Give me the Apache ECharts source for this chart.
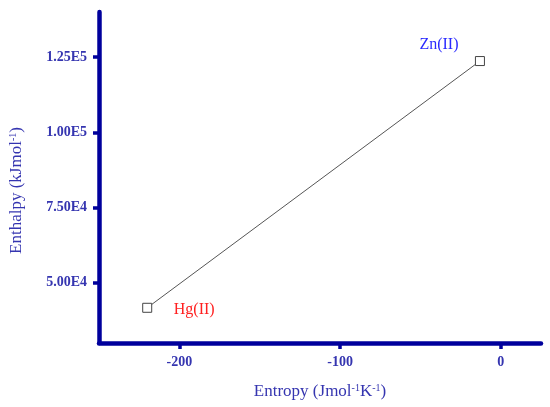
<!DOCTYPE html>
<html><head><meta charset="utf-8">
<script src="https://cdn.jsdelivr.net/npm/echarts@6/dist/echarts.min.js"></script>
<style>html,body{margin:0;padding:0;background:#fff}#c{width:550px;height:407px}</style>
</head><body><div id="c"></div>
<script>
const names = ['Hg(II)', 'Zn(II)'];
const entropy = [-220, -13];
const enthalpy = [41700, 123700];
const xTicks = [-200, -100, 0];
const yTicks = [50000, 75000, 100000, 125000];
const yTickLabels = ['5.00E4', '7.50E4', '1.00E5', '1.25E5'];
const labelColors = ['#ff2020', '#2a2aff'];
const labelOffsets = [[47, 2], [-41, -16]];

const axisBlue = '#00009c';
const textBlue = '#3535b0';
const font = '"Liberation Serif", "Times New Roman", serif';

const chart = echarts.init(document.getElementById('c'));
chart.setOption({
  animation: false,
  grid: {left: 97, right: 9, top: 12, bottom: 64},
  xAxis: {
    type: 'value', min: -250, max: 25,
    name: 'Entropy (Jmol{s|-1}K{s|-1})',
    nameLocation: 'middle', nameGap: 40,
    nameTextStyle: {color: textBlue, fontFamily: font, fontSize: 17,
      rich: {s: {fontSize: 10, verticalAlign: 'top', padding: [0,0,8,0], color: textBlue, fontFamily: font}}},
    axisLine: {onZero: false, lineStyle: {color: axisBlue, width: 4.5}},
    axisTick: {customValues: xTicks, inside: false, length: 6, lineStyle: {color: axisBlue, width: 3.5}},
    axisLabel: {customValues: xTicks, color: textBlue, fontFamily: font, fontSize: 14, fontWeight: 'bold', margin: 12},
    splitLine: {show: false}
  },
  yAxis: {
    type: 'value', min: 30000, max: 140000,
    name: 'Enthalpy (kJmol{s|-1})',
    nameLocation: 'middle', nameGap: 73, nameRotate: 90,
    nameTextStyle: {color: textBlue, fontFamily: font, fontSize: 17, padding: [0, 26, 0, 0],
      rich: {s: {fontSize: 10, verticalAlign: 'top', padding: [0,0,8,0], color: textBlue, fontFamily: font}}},
    axisLine: {onZero: false, lineStyle: {color: axisBlue, width: 4.5}},
    axisTick: {customValues: yTicks, inside: false, length: 6, lineStyle: {color: axisBlue, width: 3.5}},
    axisLabel: {customValues: yTicks, color: textBlue, fontFamily: font, fontSize: 14, fontWeight: 'bold', margin: 12,
      formatter: v => yTickLabels[yTicks.indexOf(v)] || ''},
    splitLine: {show: false}
  },
  series: [{
    type: 'line',
    data: entropy.map((x, i) => ({
      value: [x, enthalpy[i]],
      label: {show: true, formatter: names[i], color: labelColors[i], offset: labelOffsets[i],
        position: 'inside', fontFamily: font, fontSize: 16}
    })),
    symbol: 'rect', symbolSize: 9,
    itemStyle: {color: '#fff', borderColor: '#444', borderWidth: 1},
    lineStyle: {color: '#555', width: 1}
  }]
});
</script></body></html>
